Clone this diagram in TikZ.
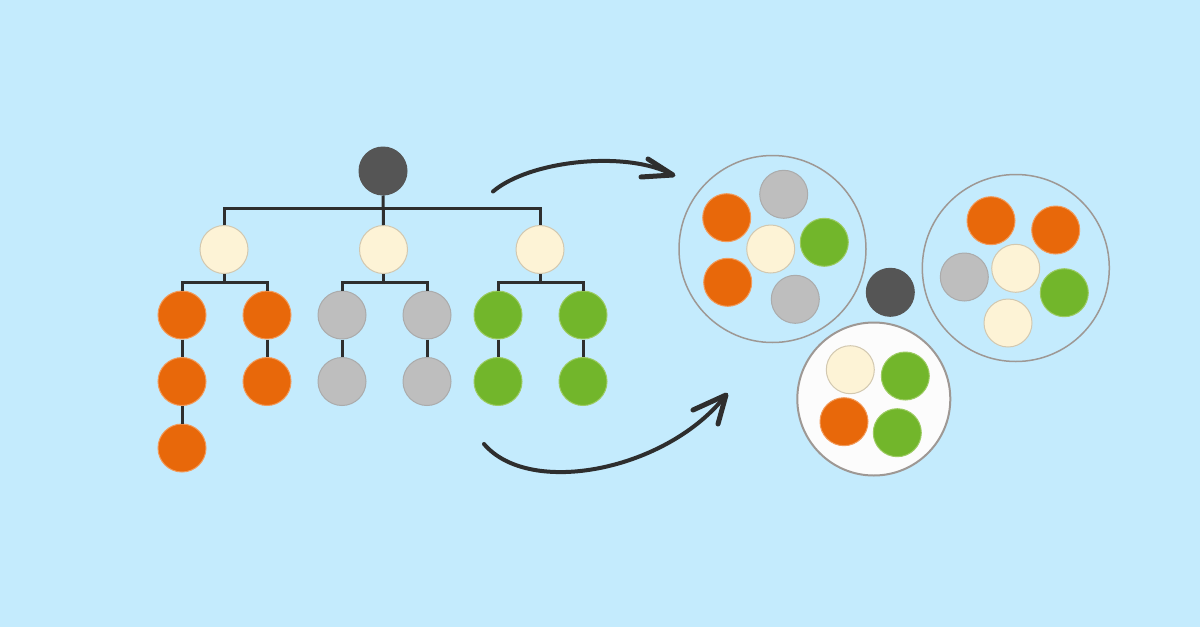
\documentclass[tikz,border=0pt]{standalone}
\definecolor{bg}{HTML}{C4EBFD}
\definecolor{orng}{HTML}{E8680A}
\definecolor{orngb}{HTML}{F29A5A}
\definecolor{gry}{HTML}{BEBEBE}
\definecolor{gryb}{HTML}{ABABAB}
\definecolor{grn}{HTML}{72B62B}
\definecolor{grnb}{HTML}{9CCB62}
\definecolor{crm}{HTML}{FDF3D6}
\definecolor{crmb}{HTML}{D2C8B0}
\definecolor{drk}{HTML}{555555}
\definecolor{ring}{HTML}{9E9894}
\definecolor{ink}{HTML}{2E2E2E}
\tikzset{
  dot/.style={circle, minimum size=48pt, inner sep=0pt, line width=1pt},
  on/.style={dot, fill=orng, draw=orngb},
  gn/.style={dot, fill=gry, draw=gryb},
  en/.style={dot, fill=grn, draw=grnb},
  cn/.style={dot, fill=crm, draw=crmb},
  dn/.style={dot, fill=drk, draw=drk},
  edge/.style={draw=ink, line width=3pt},
  cluster/.style={circle, inner sep=0pt, draw=ring, line width=1.5pt},
  bigarrow/.style={draw=ink, line width=4pt, line cap=round, line join=round},
  barb/.style={draw=ink, line width=5pt, line cap=round, line join=round}
}
\begin{document}
\begin{tikzpicture}[x=1pt,y=-1pt]
\useasboundingbox[fill=bg] (0,0) rectangle (1200,627);
% tree
\node[dn] (root) at (383,171) {};
\node[cn] (a1) at (224,249.5) {};
\node[cn] (a2) at (383.5,249.5) {};
\node[cn] (a3) at (540,249.5) {};
\node[on] (b1) at (182,315) {};
\node[on] (b2) at (267,315) {};
\node[gn] (b3) at (342,315) {};
\node[gn] (b4) at (427,315) {};
\node[en] (b5) at (498,315) {};
\node[en] (b6) at (583,315) {};
\node[on] (c1) at (182,381.5) {};
\node[on] (c2) at (267,381.5) {};
\node[gn] (c3) at (342,381.5) {};
\node[gn] (c4) at (427,381.5) {};
\node[en] (c5) at (498,381.5) {};
\node[en] (c6) at (583,381.5) {};
\node[on] (d1) at (182,448) {};
% tree edges
\draw[edge] (root.south) -- (a2.north);
\draw[edge] (a1.north) -- ++(0,-16.5) -| (a3.north);
\draw[edge] (a1.south) -- ++(0,9.5);
\draw[edge] (a2.south) -- ++(0,9.5);
\draw[edge] (a3.south) -- ++(0,9.5);
\draw[edge] (b1.north) -- ++(0,-8) -| (b2.north);
\draw[edge] (b3.north) -- ++(0,-8) -| (b4.north);
\draw[edge] (b5.north) -- ++(0,-8) -| (b6.north);
\draw[edge] (b1.south) -- (c1.north);
\draw[edge] (b2.south) -- (c2.north);
\draw[edge] (b3.south) -- (c3.north);
\draw[edge] (b4.south) -- (c4.north);
\draw[edge] (b5.south) -- (c5.north);
\draw[edge] (b6.south) -- (c6.north);
\draw[edge] (c1.south) -- (d1.north);
% clusters
\node[cluster, minimum size=187pt] (k1) at (772.5,249) {};
\node[cluster, minimum size=187pt] (k2) at (1015.8,268) {};
\node[cluster, minimum size=153pt, fill=white!98!gray, line width=2pt] (k3) at (873.8,399) {};
\node[on] (p1) at (726.7,217.7) {};
\node[gn] (p2) at (783.7,194.3) {};
\node[cn] (p3) at (770.7,249) {};
\node[en] (p4) at (824.3,242.3) {};
\node[on] (p5) at (727.7,282.3) {};
\node[gn] (p6) at (795.3,299.3) {};
\node[dn] (hub) at (890.3,292.3) {};
\node[on] (q1) at (991,220.7) {};
\node[on] (q2) at (1055.7,230) {};
\node[gn] (q3) at (964.3,277) {};
\node[cn] (q4) at (1015.7,268.3) {};
\node[en] (q5) at (1064.3,292.7) {};
\node[cn] (q6) at (1008,323) {};
\node[cn] (r1) at (850.3,369.7) {};
\node[en] (r2) at (905.3,376) {};
\node[on] (r3) at (844,421.7) {};
\node[en] (r4) at (897.3,432.7) {};
% arrows
\coordinate (s1) at (493,191.5);
\coordinate (e1) at (673,175);
\coordinate (s2) at (484,444);
\coordinate (e2) at (726,395);
\draw[bigarrow] (s1) .. controls (530,160) and (628,150) .. (e1);
\draw[barb] (e1) ++(-25,-16) -- (e1) -- ++(-32,2);
\draw[bigarrow] (s2) .. controls (530,498) and (668,470) .. (e2);
\draw[barb] (e2) ++(-33,15) -- (e2) -- ++(-8,29);
\end{tikzpicture}
\end{document}
